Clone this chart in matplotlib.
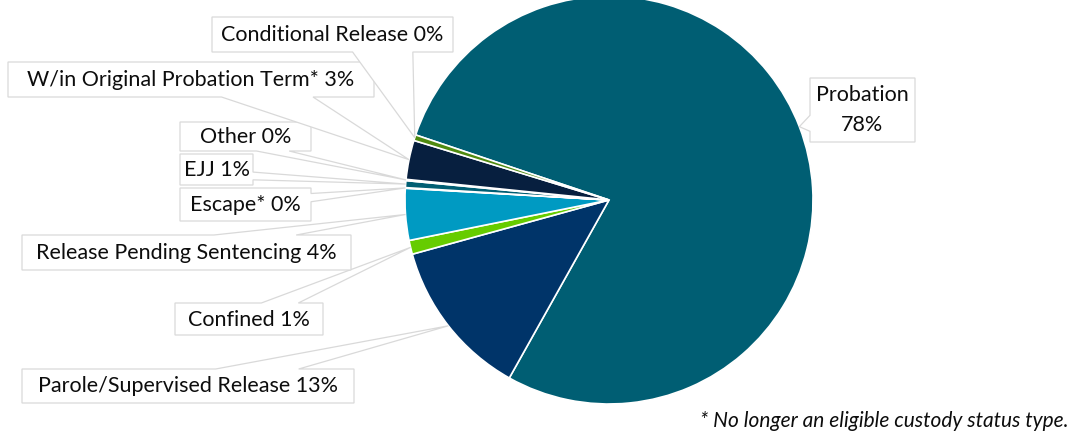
import matplotlib
matplotlib.use('Agg')
import matplotlib.pyplot as plt
import numpy as np
from matplotlib.patches import Polygon

# ---- data ----
categories = ['Probation', 'Parole/Supervised Release', 'Confined',
              'Release Pending Sentencing', 'Escape*', 'EJJ', 'Other',
              'W/in Original Probation Term*', 'Conditional Release']
values = [78.0, 12.6, 1.1, 4.1, 0.05, 0.55, 0.1, 3.1, 0.45]
colors = ['#005E73', '#003469', '#66CC00', '#009AC2', '#7FB2E5',
          '#005E73', '#A6A6A6', '#071F3F', '#4F8A10']
footnote = '* No longer an eligible custody status type.'

# ---- layout (pixel boxes: x0, top, x1, bottom) ----
boxes = {
    'Probation': (810, 78, 915, 142),
    'Parole/Supervised Release': (22, 369, 354, 403),
    'Confined': (175, 303, 323, 335),
    'Release Pending Sentencing': (22, 235, 351, 270),
    'Escape*': (180, 188, 311, 221),
    'EJJ': (180, 154, 253, 185),
    'Other': (180, 122, 311, 151),
    'W/in Original Probation Term*': (8, 62, 374, 97),
    'Conditional Release': (212, 17, 453, 52),
}

W, H = 1078, 445
plt.rcParams['font.family'] = ['Lato', 'DejaVu Sans']
fig = plt.figure(figsize=(W / 100, H / 100), dpi=100)
ax = fig.add_axes([0, 0, 1, 1])
cx, cy, R = 609, H - 200, 204
wedges, _ = ax.pie(values, colors=colors, startangle=161.4, counterclock=False,
                   center=(cx, cy), radius=R,
                   wedgeprops=dict(edgecolor='white', linewidth=1.2))
ax.set_xlim(0, W)
ax.set_ylim(0, H)
ax.set_aspect('equal')
ax.axis('off')

total = sum(values)


def callout_pts(x0, y0, x1, y1, tx, ty):
    # pixel coordinates, y downward (Excel wedgeRectCallout geometry)
    w = x1 - x0
    h = y1 - y0
    hc = (x0 + x1) / 2
    vc = (y0 + y1) / 2
    dx = tx - hc
    dy = ty - vc
    dq = dx * h / w
    dz = abs(dy) - abs(dq)
    if dz > 0:
        xa = x0 + w * (7 if dx > 0 else 2) / 12
        xb = x0 + w * (10 if dx > 0 else 5) / 12
        if dy < 0:
            pts = [(x0, y0), (xa, y0), (tx, ty), (xb, y0), (x1, y0), (x1, y1), (x0, y1)]
        else:
            pts = [(x0, y0), (x1, y0), (x1, y1), (xb, y1), (tx, ty), (xa, y1), (x0, y1)]
    else:
        ya = y0 + h * (7 if dy > 0 else 2) / 12
        yb = y0 + h * (10 if dy > 0 else 5) / 12
        if dx < 0:
            pts = [(x0, y0), (x1, y0), (x1, y1), (x0, y1), (x0, yb), (tx, ty), (x0, ya)]
        else:
            pts = [(x0, y0), (x1, y0), (x1, ya), (tx, ty), (x1, yb), (x1, y1), (x0, y1)]
    return pts


for w_, name, v in zip(wedges, categories, values):
    mid = np.deg2rad((w_.theta1 + w_.theta2) / 2)
    tx = cx + R * np.cos(mid)
    ty = H - (cy + R * np.sin(mid))
    x0, y0, x1, y1 = boxes[name]
    pts = callout_pts(x0, y0, x1, y1, tx, ty)
    pts = [(px, H - py) for px, py in pts]
    ax.add_patch(Polygon(pts, closed=True, facecolor='white', edgecolor='#D9D9D9',
                         linewidth=0.9, zorder=5))
    pct = int(np.floor(v / total * 100 + 0.5))
    if name == 'Probation':
        txt = f'{name}\n{pct}%'
        ax.text((x0 + x1) / 2, H - (y0 + y1) / 2, txt, ha='center', va='center',
                fontsize=15.5, color='#0d0d0d', linespacing=1.6, zorder=6)
    else:
        txt = f'{name} {pct}%'
        ax.text((x0 + x1) / 2, H - (y0 + y1) / 2 - 0.5, txt, ha='center', va='center',
                fontsize=15.5, color='#0d0d0d', zorder=6)

ax.text(1068, H - 421, footnote, ha='right', va='center', style='italic',
        fontsize=15, color='#0d0d0d')

fig.savefig('out.png', dpi=100)
